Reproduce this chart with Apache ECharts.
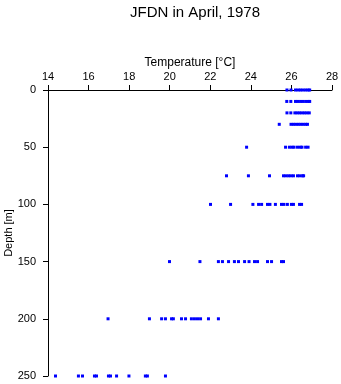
<!DOCTYPE html>
<html>
<head>
<meta charset="utf-8">
<script src="https://cdn.jsdelivr.net/npm/echarts@6/dist/echarts.min.js"></script>
<style>
html,body{margin:0;padding:0;background:#fff;}
#c{width:341px;height:384px;}
</style>
</head>
<body>
<div id="c"></div>
<script>
// Temperature readings (°C) at each depth (m)
const depths = [0, 10, 20, 30, 50, 75, 100, 150, 200, 250];
const t0   = [25.78, 25.98, 26.20, 26.33, 26.45, 26.57, 26.70, 26.82, 26.90];
const t10  = [25.77, 25.97, 26.20, 26.32, 26.45, 26.57, 26.70, 26.82, 26.90];
const t20  = [25.78, 25.97, 26.17, 26.28, 26.40, 26.52, 26.64, 26.76, 26.88];
const t30  = [25.40, 25.98, 26.10, 26.22, 26.34, 26.46, 26.58, 26.70, 26.79];
const t50  = [23.79, 25.71, 25.90, 26.03, 26.13, 26.30, 26.44, 26.52, 26.70, 26.82];
const t75  = [22.80, 23.88, 24.92, 25.61, 25.73, 25.86, 25.98, 26.10, 26.30, 26.42, 26.55, 26.60];
const t100 = [22.01, 23.00, 24.10, 24.38, 24.53, 24.82, 24.94, 25.21, 25.51, 25.63, 25.80, 26.00, 26.10, 26.40, 26.50];
const t150 = [19.99, 21.49, 22.40, 22.60, 22.90, 23.19, 23.39, 23.69, 23.91, 24.18, 24.33, 24.82, 25.02, 25.51, 25.61];
const t200 = [16.96, 19.00, 19.60, 19.79, 20.09, 20.18, 20.58, 20.78, 21.07, 21.22, 21.37, 21.52, 21.91, 22.40];
const t250 = [14.37, 15.50, 15.70, 16.29, 16.39, 16.98, 17.08, 17.38, 17.99, 18.80, 18.90, 19.79];
const tempsByDepth = [t0, t10, t20, t30, t50, t75, t100, t150, t200, t250];

const xTicks = [14, 16, 18, 20, 22, 24, 26, 28];
const yTicks = [0, 50, 100, 150, 200, 250];

const points = [];
depths.forEach((d, i) => tempsByDepth[i].forEach(t => points.push([t, d])));

const FONT = 'Liberation Sans, Arial, sans-serif';
const chart = echarts.init(document.getElementById('c'), null, {renderer: 'canvas'});
chart.setOption({
  animation: false,
  backgroundColor: '#ffffff',
  title: {
    text: 'JFDN in April, 1978',
    left: 190, top: 0, textAlign: 'center',
    textStyle: {fontFamily: FONT, fontSize: 15, fontWeight: 'normal', color: '#000'}
  },
  grid: {left: 48, right: 9, top: 90, bottom: 8, containLabel: false, outerBoundsMode: 'none'},
  xAxis: {
    type: 'value', position: 'top',
    min: xTicks[0], max: xTicks[xTicks.length - 1], interval: 2,
    name: 'Temperature [°C]', nameLocation: 'middle', nameGap: 21, nameMoveOverlap: false,
    nameTextStyle: {fontFamily: FONT, fontSize: 12, color: '#000'},
    axisLine: {show: true, lineStyle: {color: '#000', width: 1}},
    axisTick: {show: true, inside: false, length: 5, lineStyle: {color: '#000'}},
    axisLabel: {fontFamily: FONT, fontSize: 11, color: '#000', margin: 8},
    splitLine: {show: false}
  },
  yAxis: {
    type: 'value', inverse: true,
    min: yTicks[0], max: yTicks[yTicks.length - 1], interval: 50,
    name: 'Depth [m]', nameLocation: 'middle', nameGap: 34, nameRotate: 90, nameMoveOverlap: false,
    nameTextStyle: {fontFamily: FONT, fontSize: 11, color: '#000'},
    axisLine: {show: true, lineStyle: {color: '#000', width: 1}},
    axisTick: {show: true, inside: false, length: 5, lineStyle: {color: '#000'}},
    axisLabel: {fontFamily: FONT, fontSize: 11, color: '#000', margin: 12},
    splitLine: {show: false}
  },
  series: [{
    type: 'scatter',
    data: points,
    symbol: 'rect',
    symbolSize: 3,
    itemStyle: {color: '#0000ff', opacity: 1},
    clip: false
  }]
});
</script>
</body>
</html>
